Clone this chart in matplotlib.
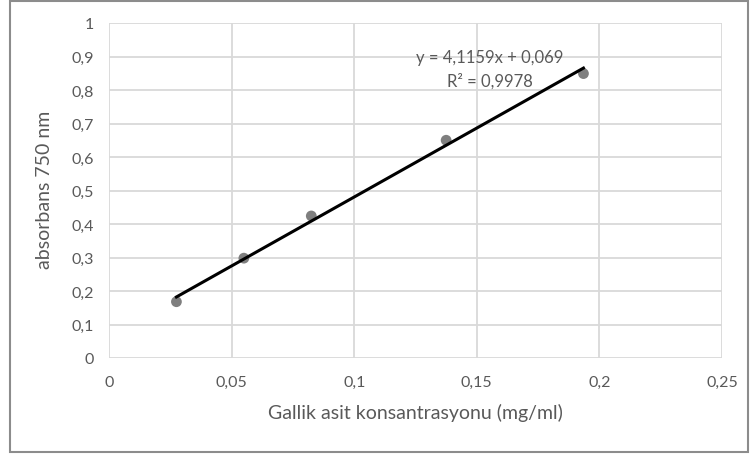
import matplotlib
matplotlib.use("Agg")
import matplotlib.pyplot as plt
from matplotlib.patches import Rectangle
from matplotlib.ticker import FuncFormatter

x_vals = [0.0275, 0.055, 0.0825, 0.1375, 0.1935]
y_vals = [0.168, 0.298, 0.424, 0.650, 0.849]
slope = 4.1159
intercept = 0.069
r2_text = "R² = 0,9978"
eq_text = "y = 4,1159x + 0,069"
x_ticks = [0, 0.05, 0.1, 0.15, 0.2, 0.25]
y_ticks = [0, 0.1, 0.2, 0.3, 0.4, 0.5, 0.6, 0.7, 0.8, 0.9, 1.0]
x_label = "Gallik asit konsantrasyonu (mg/ml)"
y_label = "absorbans 750 nm"

plt.rcParams['font.family'] = ['Lato', 'DejaVu Sans']
txt = '#595959'
grid = '#d9d9d9'

fig = plt.figure(figsize=(7.52, 4.56), dpi=100)
fig.patches.append(Rectangle((10/752, 3/456), 738/752, 451/456, transform=fig.transFigure,
                             fill=False, edgecolor='#8c8c8c', linewidth=1.5))
ax = fig.add_axes([109/752, 97/456, 613/752, 335/456])
ax.set_xlim(0, 0.25)
ax.set_ylim(0, 1)
ax.set_xticks(x_ticks)
ax.set_yticks(y_ticks)

def fmt(v, pos):
    s = ('%.2f' % v).rstrip('0').rstrip('.')
    return s.replace('.', ',')

ax.xaxis.set_major_formatter(FuncFormatter(fmt))
ax.yaxis.set_major_formatter(FuncFormatter(fmt))
ax.grid(True, color=grid, linewidth=1.3)
ax.set_axisbelow(True)
for s in ax.spines.values():
    s.set_visible(False)
ax.tick_params(length=0, colors=txt, labelsize=11.5)
ax.tick_params(axis='y', pad=11)
ax.tick_params(axis='x', pad=12)

ax.scatter(x_vals, y_vals, s=60, color='#7f7f7f', zorder=3, edgecolors='none')
xs = [min(x_vals), max(x_vals)]
ax.plot(xs, [slope * v + intercept for v in xs], color='black', linewidth=2.2, zorder=4)

ax.text(0.1554, 0.899, eq_text, color=txt, fontsize=12, ha='center', va='center')
ax.text(0.1554, 0.829, r2_text, color=txt, fontsize=12, ha='center', va='center')

ax.set_xlabel(x_label, color=txt, fontsize=14)
ax.set_ylabel(y_label, color=txt, fontsize=14)
ax.xaxis.set_label_coords((415 - 109) / 613, -(413 - 359) / 335)
ax.yaxis.set_label_coords(-(109 - 44) / 613, (359 - 190) / 335)
ax.xaxis.label.set_va('center')
ax.yaxis.label.set_va('center')

fig.savefig("out.png", dpi=100)
